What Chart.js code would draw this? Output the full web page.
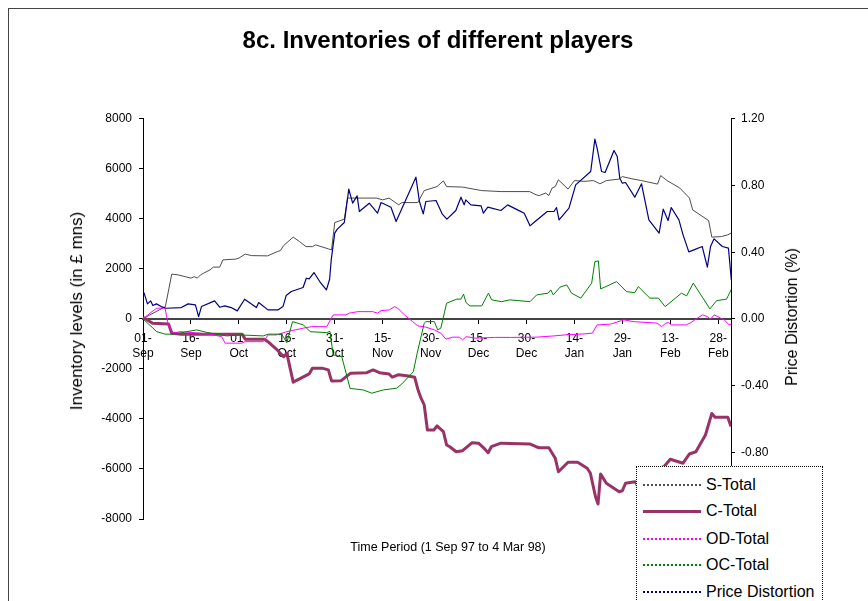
<!DOCTYPE html>
<html><head><meta charset="utf-8">
<script src="https://cdn.jsdelivr.net/npm/chart.js@4"></script>
<style>
html,body{margin:0;padding:0;background:#fff;overflow:hidden;width:868px;height:601px;}
#wrap{position:relative;width:868px;height:601px;overflow:hidden;font-family:"Liberation Sans",Arial,Helvetica,sans-serif;color:#000;}
#frame{position:absolute;left:8px;top:8px;width:1000px;height:1000px;border-left:1px solid #444;border-top:1px solid #444;}
canvas{position:absolute;left:0;top:0;}
#xtitle{position:absolute;left:448px;top:547px;transform:translate(-50%,-50%);font-size:12.5px;white-space:nowrap;}
#ltitle{position:absolute;left:77px;top:311px;transform:translate(-50%,-50%) rotate(-90deg);font-size:17px;white-space:nowrap;}
#rtitle{position:absolute;left:792px;top:317px;transform:translate(-50%,-50%) rotate(-90deg);font-size:16px;white-space:nowrap;}
#legend{position:absolute;left:636px;top:466px;width:187px;height:200px;border:1px dotted #000;background:#fff;box-sizing:border-box;}
.row{position:absolute;left:0;height:22px;display:flex;align-items:center;font-size:16px;white-space:nowrap;}
.sw{width:58px;margin-left:6px;margin-right:5px;height:0;}
</style>
</head>
<body>
<div id="wrap">
<div id="frame"></div>
<canvas id="c" width="868" height="601"></canvas>
<div id="xtitle">Time Period (1 Sep 97 to 4 Mar 98)</div>
<div id="ltitle">Inventory levels (in £ mns)</div>
<div id="rtitle">Price Distortion (%)</div>
<div id="legend"></div>
</div>
<script>
// ---- data (day offsets from 01-Sep-97) ----
const xTickLabels = ['01-Sep','16-Sep','01-Oct','16-Oct','31-Oct','15-Nov','30-Nov','15-Dec','30-Dec','14-Jan','29-Jan','13-Feb','28-Feb'];
const seriesNames = ['S-Total','C-Total','OD-Total','OC-Total','Price Distortion'];

const sDays = [0,2,7,9,11,15,16,17,18,19,21,22,24,25,29,30,32,34,39,42,43,44,47,49,51,53,54,58,59,60,63,64,73,75,77,80,81,86,88,92,94,95,100,106,112,121,123,124,126,127,128,129,130,133,135,138,141,143,145,149,150,153,156,161,162,164,168,171,172,177,178,181,183,184];
const sValues = [0,150,490,1790,1760,1630,1690,1630,1760,1830,1960,2070,2070,2360,2390,2430,2590,2530,2520,2690,2730,2930,3270,3090,2890,2890,2960,2800,2760,3850,3990,4830,4830,4760,4830,4560,4650,4650,5130,5290,5520,5290,5270,5130,5090,5090,4960,4930,5030,4930,5230,5290,5560,5190,5530,5500,5530,5400,5530,5590,5690,5600,5530,5390,5730,5530,5230,4830,4360,3930,3270,3290,3360,3430];

const cDays = [0,3,8,9,12,31,32,38,39,42,44,45,47,52,53,56,58,59,62,65,70,72,74,77,78,80,83,85,86,87,88,89,91,92,94,95,96,98,100,103,105,107,108,109,112,121,123,124,127,129,130,133,136,139,140,141.6,142.4,143.2,145,149,150,151,154,155,157,159,161,163,165,169,171,173,176,178,179,183,184];
const cValues = [70,-170,-200,-570,-610,-610,-810,-810,-900,-1240,-1510,-1370,-2530,-2200,-1970,-1970,-2040,-2480,-2470,-2170,-2150,-2040,-2150,-2200,-2330,-2230,-2280,-2330,-2810,-3170,-3440,-4440,-4440,-4280,-4510,-5040,-5110,-5310,-5270,-4950,-4970,-5210,-5350,-5110,-4970,-5000,-5110,-5150,-5150,-5570,-6110,-5730,-5730,-5970,-6170,-7110,-7400,-6200,-6570,-6910,-6870,-6570,-6510,-6710,-6400,-6100,-5970,-5910,-5610,-5770,-5400,-5310,-4640,-3780,-3930,-3930,-4300];

const odDays = [0,2.2,4.3,6.9,7.9,9.5,11.6,17.8,22,24.6,25.7,30.9,31.9,37.6,39.2,41.8,45,50.2,52.8,57.5,59.5,63.5,64.6,67.2,71.9,73.4,74.5,77.1,78.7,79.7,81.8,84.4,86,88.5,91.2,93.2,94.8,96.9,99,100,101.1,104.2,110,115,123,128.6,132,138,140.6,142.1,146.3,149.7,150.5,153.6,160.9,162.3,163.6,164.5,165.3,170,171.4,173.5,175.1,176.6,177.6,178.7,180.8,182,183.4,184];
const odValues = [0,230,430,430,-240,-570,-510,-570,-640,-710,-970,-970,-910,-910,-640,-640,-510,-370,-310,-310,160,160,230,290,290,230,330,360,490,430,160,-110,-280,-330,-440,-570,-810,-730,-730,-840,-710,-770,-740,-740,-730,-680,-640,-600,-570,-240,-210,-70,-40,-110,-170,-310,-170,-150,-240,-240,-150,30,160,90,-10,160,30,-50,-240,-210];

const ocDays = [0,4.3,6.9,10,13.7,16.8,20,23.1,26.2,30.4,37.6,39.2,43.4,45,46.8,50.2,52.3,57.5,58.5,59.5,62.2,64.8,68.9,71.6,75.2,79.4,81,84.6,85.8,88,88.5,91.2,92.2,93.2,95,98.2,99.5,100.3,101.1,102.3,106,108.1,109.1,112.2,114.8,121.1,123.2,126.8,127.6,128.4,130.5,132.6,134.1,137,140.4,141.4,142.5,143.2,145.5,148.2,151.3,153.9,155,158.6,161.3,163.4,168.5,170.1,172.2,177.4,179.5,182.6,184.2];
const ocValues = [0,-510,-610,-610,-510,-440,-540,-610,-680,-640,-680,-610,-610,-950,-110,-240,-510,-550,-500,-1440,-1510,-2780,-2840,-2970,-2840,-2770,-2600,-2110,-1370,-170,-110,-110,-440,-370,630,790,790,990,650,520,520,1030,760,690,760,690,960,1030,1160,960,1270,1360,1030,830,1430,2290,2320,1200,1330,1490,1090,1050,1290,830,830,490,1030,920,1430,400,730,790,1200];

const pdDays = [0.3,1.4,2.4,3.1,4.2,5.7,7.3,12,14.1,16.4,17.4,18.3,22.4,24,25.6,27.6,29.5,31.8,35.5,36.2,39.1,42.2,43.8,44.8,46.4,50.1,51.1,52,53.5,55.3,57.4,58.4,58.9,60,60.8,63,64.4,65.6,67,67.7,70.8,73.4,74.5,77.6,79.2,85.4,86.5,87.7,88.5,91.7,93.6,95.1,97.9,99.5,100.5,101,102.6,105.8,106.5,107.9,112,114.1,117.2,119.3,121.1,122.7,126.5,128.6,129.4,130.2,133.3,135.4,140.1,141.4,142.1,143.5,144.6,147.4,148.4,149.2,150,151,153.9,156,158.3,161.5,162.8,164.3,165.3,167.7,169,170.8,172.4,175,176.6,177.6,178.7,181.3,183.2,184.1];
const pdValues = [0.158,0.09,0.108,0.08,0.09,0.074,0.064,0.068,0.09,0.084,0.014,0.074,0.108,0.07,0.078,0.068,0.048,0.118,0.068,0.098,0.054,0.054,0.074,0.14,0.164,0.188,0.244,0.24,0.278,0.224,0.174,0.238,0.354,0.514,0.538,0.578,0.778,0.694,0.738,0.644,0.694,0.634,0.698,0.67,0.584,0.85,0.704,0.63,0.704,0.71,0.63,0.598,0.65,0.73,0.684,0.714,0.684,0.678,0.634,0.67,0.65,0.684,0.654,0.634,0.558,0.584,0.644,0.644,0.668,0.594,0.664,0.804,0.884,1.078,1.024,0.884,0.878,1.01,0.974,0.844,0.814,0.818,0.73,0.81,0.594,0.514,0.658,0.59,0.668,0.594,0.504,0.402,0.414,0.434,0.31,0.434,0.48,0.434,0.424,0.234];

const seriesColors = ['#4d4d4d','#993366','#ff00ff','#008000','#000080'];
const seriesWidths = [1,3,1,1,1.2];

function pts(days, vals){ return days.map((d,i)=>({x:d, y:vals[i]})); }

const FONT = '"Liberation Sans", Arial, Helvetica, sans-serif';
Chart.defaults.font.family = FONT;
Chart.defaults.color = '#000';

const sets = [
  [sDays,sValues,'y'],[cDays,cValues,'y'],[odDays,odValues,'y'],[ocDays,ocValues,'y'],[pdDays,pdValues,'y1']
];
const datasets = sets.map((s,i)=>({
  label: seriesNames[i], data: pts(s[0],s[1]), yAxisID: s[2],
  borderColor: seriesColors[i], backgroundColor: seriesColors[i],
  borderWidth: seriesWidths[i], fill:false, order: 5-i
}));

const axisGrid = {drawOnChartArea:false, tickLength:4, color:'#000', lineWidth:1};

new Chart(document.getElementById('c'), {
  type:'line',
  data:{datasets},
  options:{
    responsive:false, animation:false, devicePixelRatio:1,
    elements:{point:{radius:0}, line:{tension:0, borderJoinStyle:'round'}},
    layout:{padding:{left:60,right:52,top:10,bottom:82}},
    plugins:{
      legend:{display:false}, tooltip:{enabled:false},
      title:{display:true, text:'8c. Inventories of different players', color:'#000',
        font:{size:24, weight:'bold'}, padding:{top:17,bottom:63}}
    },
    scales:{
      x:{type:'linear', position:{y:0}, min:0, max:184,
        ticks:{stepSize:15, includeBounds:false, autoSkip:false, maxRotation:0, minRotation:0,
          font:{size:12}, color:'#000', padding:9,
          callback:(v)=>{ if (v%15!==0) return ''; const l=xTickLabels[v/15]; if(!l) return ''; const p=l.split('-'); return [p[0]+'-', p[1]]; }},
        grid:axisGrid,
        border:{color:'#444', width:2, dash:[2,1]}},
      y:{position:'left', min:-8000, max:8000,
        ticks:{stepSize:2000, font:{size:12}, color:'#000', padding:7, callback:(v)=>String(v)},
        grid:axisGrid, border:{color:'#000', width:1, dash:[2,1]},
        afterFit:(s)=>{s.width=83;}},
      y1:{position:'right', min:-1.2, max:1.2,
        ticks:{stepSize:0.4, font:{size:12}, color:'#000', padding:6,
          callback:(v)=> (Math.abs(v)<1e-9 ? 0 : v).toFixed(2)},
        grid:axisGrid, border:{color:'#000', width:1, dash:[2,1]},
        afterFit:(s)=>{s.width=85;}}
    }
  }
});

// legend (HTML, overlapping bottom-right as in reference)
const lg = document.getElementById('legend');
const rowCenters = [18,44,72,98,125];
seriesNames.forEach((n,i)=>{
  const r = document.createElement('div'); r.className='row'; r.style.top=(rowCenters[i]-11)+'px';
  const sw = document.createElement('div'); sw.className='sw';
  sw.style.borderTop = (i===1 ? '3px solid ' : '2px dotted ') + seriesColors[i];
  const t = document.createElement('span'); t.textContent = n;
  r.appendChild(sw); r.appendChild(t); lg.appendChild(r);
});
</script>
</body></html>
